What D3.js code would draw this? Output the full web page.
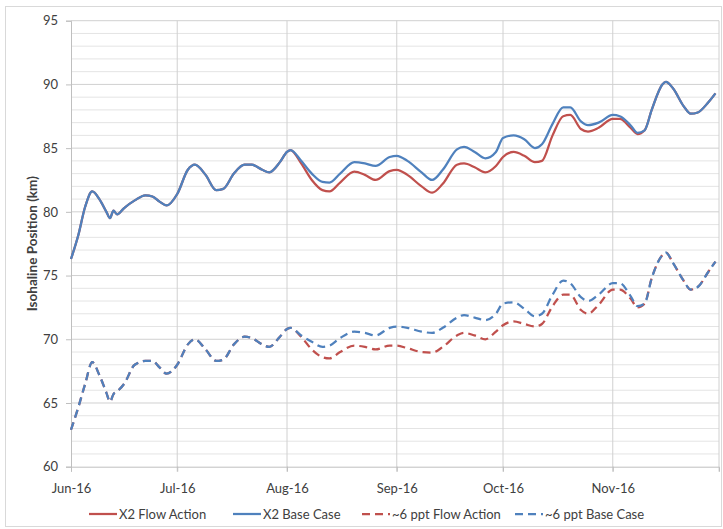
<!DOCTYPE html>
<html><head><meta charset="utf-8">
<script src="https://cdn.jsdelivr.net/npm/d3@7"></script>
<style>
body{margin:0;background:#fff;}
text{font-family:Lato,"Open Sans",sans-serif;fill:#404040;}
</style></head>
<body><svg id="c" width="723" height="529"></svg>
<script>
const dates = ["2016-06-01","2016-06-03","2016-06-05","2016-06-07","2016-06-09","2016-06-11","2016-06-12","2016-06-13","2016-06-14","2016-06-16","2016-06-19","2016-06-22","2016-06-24","2016-06-26","2016-06-28","2016-07-01","2016-07-04","2016-07-06","2016-07-09","2016-07-12","2016-07-14","2016-07-17","2016-07-20","2016-07-22","2016-07-25","2016-07-27","2016-07-30","2016-08-01","2016-08-02","2016-08-05","2016-08-08","2016-08-11","2016-08-13","2016-08-16","2016-08-20","2016-08-23","2016-08-26","2016-08-30","2016-09-01","2016-09-04","2016-09-08","2016-09-11","2016-09-14","2016-09-18","2016-09-20","2016-09-23","2016-09-26","2016-09-29","2016-10-01","2016-10-04","2016-10-07","2016-10-10","2016-10-12","2016-10-15","2016-10-18","2016-10-20","2016-10-23","2016-10-25","2016-10-28","2016-11-01","2016-11-03","2016-11-06","2016-11-08","2016-11-10","2016-11-12","2016-11-15","2016-11-16","2016-11-18","2016-11-21","2016-11-23","2016-11-25","2016-11-28","2016-11-30"];

const x2BaseCase = [76.3,78.1,80.4,81.6,81.0,80.0,79.5,80.1,79.8,80.3,80.9,81.3,81.2,80.8,80.5,81.4,83.3,83.7,82.9,81.7,81.8,83.0,83.7,83.7,83.3,83.1,83.9,84.7,84.85,84.0,83.0,82.35,82.3,83.0,83.9,83.8,83.6,84.3,84.4,84.0,83.1,82.5,83.3,84.9,85.1,84.7,84.2,84.7,85.8,86.0,85.7,85.0,85.3,86.9,88.2,88.2,87.1,86.8,87.0,87.6,87.5,86.8,86.2,86.4,88.0,90.0,90.2,89.7,88.3,87.7,87.8,88.6,89.3];

const x2FlowAction = [76.3,78.1,80.4,81.6,81.0,80.0,79.5,80.1,79.8,80.3,80.9,81.3,81.2,80.8,80.5,81.4,83.3,83.7,82.9,81.7,81.8,83.0,83.7,83.7,83.3,83.1,83.9,84.7,84.85,83.8,82.5,81.7,81.6,82.3,83.15,82.9,82.5,83.2,83.3,82.9,82.0,81.5,82.2,83.7,83.8,83.5,83.1,83.6,84.3,84.7,84.4,83.9,84.0,86.0,87.5,87.6,86.5,86.3,86.6,87.3,87.3,86.6,86.1,86.4,88.0,90.0,90.2,89.7,88.3,87.7,87.8,88.6,89.3];

const ppt6BaseCase = [62.9,64.6,66.5,68.2,67.2,65.8,65.1,65.7,65.9,66.5,68.0,68.3,68.3,67.8,67.3,68.0,69.6,70.0,69.2,68.3,68.4,69.6,70.2,70.1,69.6,69.4,70.2,70.8,70.9,70.3,69.8,69.4,69.5,70.1,70.6,70.5,70.3,70.9,71.0,70.9,70.6,70.5,70.9,71.7,71.9,71.7,71.5,72.0,72.8,72.9,72.4,71.8,72.0,73.5,74.6,74.4,73.3,73.0,73.5,74.4,74.4,73.4,72.6,72.8,74.8,76.6,76.8,76.0,74.6,73.9,74.1,75.3,76.1];

const ppt6FlowAction = [62.9,64.6,66.5,68.2,67.2,65.8,65.1,65.7,65.9,66.5,68.0,68.3,68.3,67.8,67.3,68.0,69.6,70.0,69.2,68.3,68.4,69.6,70.2,70.1,69.6,69.4,70.2,70.8,70.9,70.2,69.2,68.6,68.5,69.0,69.5,69.4,69.2,69.5,69.5,69.3,69.0,68.95,69.4,70.3,70.5,70.3,70.0,70.6,71.1,71.4,71.2,71.0,71.2,72.6,73.5,73.5,72.3,72.0,72.7,73.9,73.9,73.2,72.5,72.8,74.8,76.6,76.8,76.0,74.6,73.9,74.1,75.3,76.1];

const seriesNames = ["X2 Flow Action","X2 Base Case","~6 ppt Flow Action","~6 ppt Base Case"];
const xTickLabels = ["Jun-16","Jul-16","Aug-16","Sep-16","Oct-16","Nov-16"];
const yTicks = [60,65,70,75,80,85,90,95];

const svg = d3.select("#c");
const parse = d3.timeParse("%Y-%m-%d");
const L = 71, R = 719, T = 20.7, B = 466.7;
const x = d3.scaleTime().domain([parse("2016-06-01"), parse("2016-12-01")]).range([L, R]);
const y = d3.scaleLinear().domain([60, 95]).range([B, T]);

// outer border
svg.append("rect").attr("x",5.5).attr("y",6.5).attr("width",716).attr("height",520)
  .attr("fill","none").attr("stroke","#d9d9d9");

// minor gridlines
svg.append("g").selectAll("line").data(d3.range(61,95).filter(v=>v%5!==0)).join("line")
  .attr("x1",L).attr("x2",R).attr("y1",d=>y(d)).attr("y2",d=>y(d))
  .attr("stroke","#e4e4e4").attr("stroke-width",1);
// major gridlines
svg.append("g").selectAll("line").data(yTicks.slice(1)).join("line")
  .attr("x1",L).attr("x2",R).attr("y1",d=>y(d)).attr("y2",d=>y(d))
  .attr("stroke","#d0d0d0").attr("stroke-width",1);
// vertical month gridlines
const monthTicks = d3.timeMonth.range(parse("2016-06-01"), parse("2016-12-02"));
svg.append("g").selectAll("line").data(monthTicks.slice(1)).join("line")
  .attr("x1",d=>x(d)).attr("x2",d=>x(d)).attr("y1",T).attr("y2",B+5)
  .attr("stroke","#d0d0d0").attr("stroke-width",1);

// y axis
const yAxis = d3.axisLeft(y).tickValues(yTicks).tickSize(5).tickPadding(8);
const gy = svg.append("g").attr("transform",`translate(${L},0)`).call(yAxis);
gy.select(".domain").attr("stroke","#bfbfbf");
gy.selectAll(".tick line").attr("stroke","#bfbfbf");
gy.selectAll(".tick text").style("font-size","13px").style("font-family","Lato").attr("fill","#404040");

// x axis
const xAxis = d3.axisBottom(x).tickValues(monthTicks.slice(0,6)).tickSize(5).tickPadding(12)
  .tickFormat((d,i)=>xTickLabels[i]);
const gx = svg.append("g").attr("transform",`translate(0,${B})`).call(xAxis);
gx.select(".domain").attr("stroke","#bfbfbf");
gx.selectAll(".tick line").attr("stroke","#bfbfbf");
gx.selectAll(".tick text").style("font-size","13px").style("font-family","Lato").attr("fill","#404040");

// y label
svg.append("text").attr("transform",`translate(37,${(T+B)/2}) rotate(-90)`)
  .attr("text-anchor","middle").style("font-size","13.5px").style("font-weight","bold")
  .text("Isohaline Position (km)");

const red = "#c0504d", blue = "#4f81bd";
const styles = [
  {vals:x2FlowAction, color:red, dash:null},
  {vals:x2BaseCase, color:blue, dash:null},
  {vals:ppt6FlowAction, color:red, dash:"8,5"},
  {vals:ppt6BaseCase, color:blue, dash:"8,5"}
];
const line = d3.line().x(d=>x(d[0])).y(d=>y(d[1])).curve(d3.curveMonotoneX);
[0,1,2,3].forEach(i=>{
  const s = styles[i];
  const pts = dates.map((d,j)=>[parse(d), s.vals[j]]);
  svg.append("path").attr("d",line(pts)).attr("fill","none")
    .attr("stroke",s.color).attr("stroke-width",2.25)
    .attr("stroke-dasharray",s.dash).attr("stroke-linejoin","round");
});

// legend
const legX = [89, 233, 362, 515];
const lg = svg.append("g");
seriesNames.forEach((n,i)=>{
  const s = styles[i];
  lg.append("line").attr("x1",legX[i]).attr("x2",legX[i]+28).attr("y1",514).attr("y2",514)
    .attr("stroke",s.color).attr("stroke-width",2.25).attr("stroke-dasharray",s.dash);
  lg.append("text").attr("x",legX[i]+30).attr("y",518.5).style("font-size","13px").text(n);
});
</script></body></html>
